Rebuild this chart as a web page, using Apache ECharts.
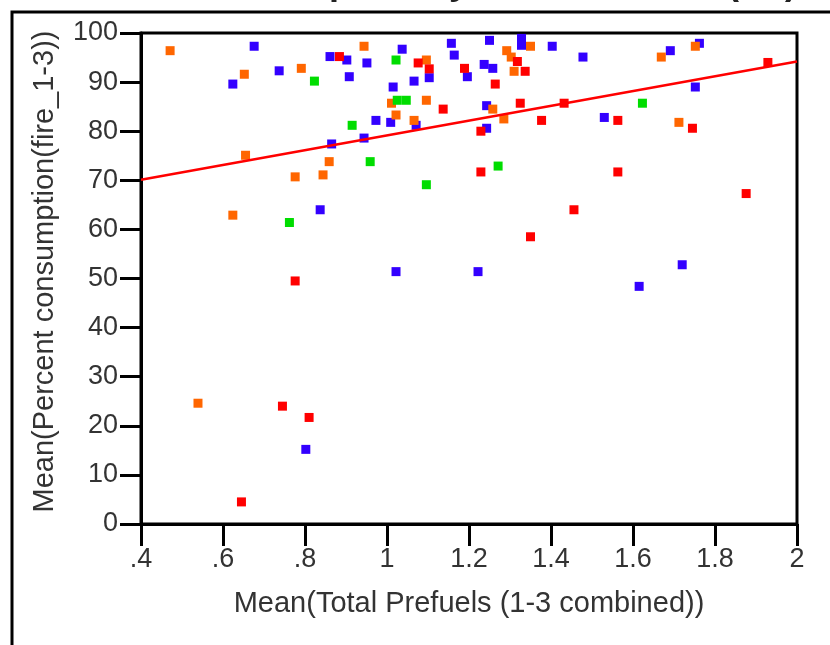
<!DOCTYPE html>
<html>
<head>
<meta charset="utf-8">
<script src="https://cdn.jsdelivr.net/npm/echarts@6/dist/echarts.min.js"></script>
<style>
    html, body { margin: 0; padding: 0; background: #fff; }
    #main { width: 830px; height: 645px; }
</style>
</head>
<body>
<div id="main"></div>
<script type="text/javascript">
    // 数据：四组散点 + 回归线
    var blueX = [0.676, 0.861, 0.902, 0.624, 0.737, 0.908, 0.865, 1.037, 1.157, 1.164, 1.25, 1.328, 1.328, 1.403, 0.951, 1.103, 1.066, 1.015, 1.196, 1.237, 1.258, 1.243, 0.973, 1.009, 1.071, 1.243, 0.944, 1.478, 1.691, 1.762, 1.752, 1.53, 0.837, 1.022, 1.222, 1.72, 1.615, 0.802];
    var blueY = [97.3, 95.2, 94.5, 89.6, 92.3, 91.1, 77.4, 96.7, 97.9, 95.5, 98.5, 98.9, 97.5, 97.3, 93.9, 90.9, 90.2, 89.0, 91.1, 93.6, 92.8, 85.2, 82.2, 81.8, 81.2, 80.6, 78.6, 95.1, 96.4, 97.9, 89.0, 82.8, 64.0, 51.4, 51.4, 52.8, 48.4, 15.2];

    var orangeX = [0.471, 0.652, 0.791, 0.655, 0.859, 0.776, 0.844, 0.944, 1.35, 1.292, 1.303, 1.31, 1.096, 1.096, 1.011, 1.022, 1.258, 1.285, 1.066, 1.669, 1.752, 1.712, 0.624, 0.539];
    var orangeY = [96.4, 91.6, 92.8, 75.1, 73.8, 70.7, 71.1, 97.3, 97.3, 96.4, 95.1, 92.2, 94.5, 86.3, 85.7, 83.3, 84.5, 82.5, 82.2, 95.1, 97.3, 81.8, 62.9, 24.6];

    var redX = [0.884, 1.076, 1.103, 1.189, 1.264, 1.318, 1.337, 1.137, 1.325, 1.377, 1.432, 1.229, 1.229, 1.929, 1.563, 1.745, 1.563, 1.876, 1.456, 1.35, 0.776, 0.745, 0.81, 0.645];
    var redY = [95.2, 93.9, 92.7, 92.8, 89.6, 94.2, 92.2, 84.5, 85.7, 82.2, 85.7, 80.0, 71.7, 94.0, 82.2, 80.6, 71.7, 67.3, 64.0, 58.5, 49.5, 24.0, 21.7, 4.5];

    var greenX = [0.823, 0.915, 1.022, 1.025, 1.047, 0.959, 1.271, 1.096, 1.623, 0.762];
    var greenY = [90.2, 81.2, 94.5, 86.3, 86.3, 73.8, 72.9, 69.1, 85.7, 61.4];

    var fitX = [0.4, 2];
    var fitY = [70.1, 94.2];

    function pairs(xs, ys) {
        var out = [];
        for (var i = 0; i < xs.length; i++) out.push([xs[i], ys[i]]);
        return out;
    }

    var FONT = "'Liberation Sans', Arial, sans-serif";

    var myChart = echarts.init(document.getElementById('main'));

    var option = {
        animation: false,
        backgroundColor: '#fff',
        grid: {
            left: 141,
            right: 33,
            top: 33,
            bottom: 121,
            show: true,
            borderColor: '#000',
            borderWidth: 3
        },
        graphic: [
            {
                // 标题被裁掉，只露出下半部分
                type: 'text',
                x: 420,
                y: 2,
                style: {
                    text: 'Percent Consumption by Pre-bait Fuels (All)',
                    font: 'bold 36px ' + FONT,
                    fill: '#222',
                    textAlign: 'center',
                    textVerticalAlign: 'bottom'
                }
            },
            {
                type: 'rect',
                shape: { x: 12, y: 12, width: 840, height: 660 },
                style: { fill: 'none', stroke: '#000', lineWidth: 3 }
            }
        ],
        xAxis: {
            type: 'value',
            min: 0.4,
            max: 2,
            interval: 0.2,
            name: 'Mean(Total Prefuels (1-3 combined))',
            nameLocation: 'middle',
            nameGap: 65,
            nameTextStyle: { fontFamily: FONT, fontSize: 29, color: '#333' },
            axisLine: { lineStyle: { color: '#000', width: 3 } },
            axisTick: { inside: false, length: 22, lineStyle: { color: '#000', width: 3 } },
            axisLabel: {
                margin: 22,
                fontFamily: FONT,
                fontSize: 27,
                color: '#333',
                formatter: function (v) {
                    return String(+v.toFixed(1)).replace(/^0\./, '.');
                }
            },
            splitLine: { show: false }
        },
        yAxis: {
            type: 'value',
            min: 0,
            max: 100,
            interval: 10,
            name: 'Mean(Percent consumption(fire_1-3))',
            nameLocation: 'middle',
            nameGap: 82,
            nameTextStyle: { fontFamily: FONT, fontSize: 29, color: '#333', padding: [0, 0, 0, 14] },
            axisLine: { lineStyle: { color: '#000', width: 3 } },
            axisTick: { inside: false, length: 21, lineStyle: { color: '#000', width: 3 } },
            axisLabel: { margin: 23, fontFamily: FONT, fontSize: 27, color: '#333' },
            splitLine: { show: false }
        },
        series: [
            {
                type: 'scatter', symbol: 'rect', symbolSize: 9,
                itemStyle: { color: '#3300ff', opacity: 1 },
                data: pairs(blueX, blueY)
            },
            {
                type: 'scatter', symbol: 'rect', symbolSize: 9,
                itemStyle: { color: '#ff6600', opacity: 1 },
                data: pairs(orangeX, orangeY)
            },
            {
                type: 'scatter', symbol: 'rect', symbolSize: 9,
                itemStyle: { color: '#ff0000', opacity: 1 },
                data: pairs(redX, redY)
            },
            {
                type: 'scatter', symbol: 'rect', symbolSize: 9,
                itemStyle: { color: '#00dd00', opacity: 1 },
                data: pairs(greenX, greenY)
            },
            {
                type: 'line',
                showSymbol: false,
                z: 5,
                lineStyle: { color: '#ff0000', width: 2.5 },
                data: pairs(fitX, fitY)
            }
        ]
    };

    myChart.setOption(option);
</script>
</body>
</html>
